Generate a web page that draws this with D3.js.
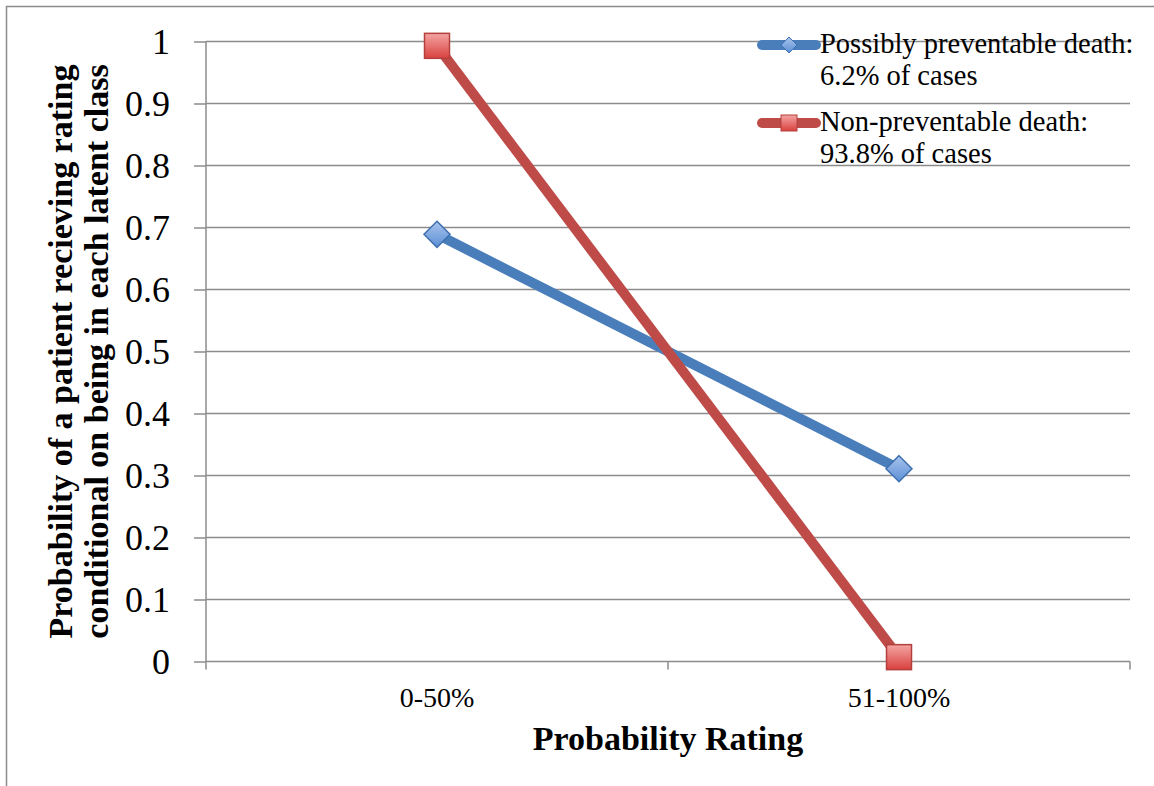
<!DOCTYPE html>
<html><head><meta charset="utf-8">
<script src="https://cdn.jsdelivr.net/npm/d3@7"></script>
<style>body{margin:0;background:#fff}svg{display:block}</style>
</head><body>
<svg id="c" width="1154" height="786"></svg>
<script>
const categories = ["0-50%", "51-100%"];
const seriesNames = ["Possibly preventable death:|6.2% of cases", "Non-preventable death:|93.8% of cases"];
const possiblyPreventable = [0.689, 0.311];
const nonPreventable = [0.993, 0.007];
const yTicks = [0, 0.1, 0.2, 0.3, 0.4, 0.5, 0.6, 0.7, 0.8, 0.9, 1];
const yTickLabels = ["0", "0.1", "0.2", "0.3", "0.4", "0.5", "0.6", "0.7", "0.8", "0.9", "1"];

(function(){
const font = "'Liberation Serif','DejaVu Serif',serif";
const svg = d3.select("#c");
const defs = svg.append("defs");
const gb = defs.append("linearGradient").attr("id","gb").attr("x1",0).attr("y1",0).attr("x2",0).attr("y2",1);
gb.append("stop").attr("offset","0").attr("stop-color","#a9c4ec");
gb.append("stop").attr("offset","1").attr("stop-color","#5b8fd6");
const gr = defs.append("linearGradient").attr("id","gr").attr("x1",0).attr("y1",0).attr("x2",0).attr("y2",1);
gr.append("stop").attr("offset","0").attr("stop-color","#f3a5a3");
gr.append("stop").attr("offset","1").attr("stop-color","#d9413e");

// outer border
svg.append("rect").attr("x",6.5).attr("y",6.5).attr("width",1160).attr("height",800)
  .attr("fill","none").attr("stroke","#8c8c8c").attr("stroke-width",1.5);

const pLeft = 206, pRight = 1130, pTop = 41.5, pBottom = 661.5;
const x = d3.scaleBand().domain(categories).range([pLeft, pRight]);
const y = d3.scaleLinear().domain([0, 1]).range([pBottom, pTop]);

// gridlines
svg.append("g").selectAll("line").data(yTicks.filter(d => d > 0)).join("line")
  .attr("x1", pLeft).attr("x2", pRight).attr("y1", d => y(d)).attr("y2", d => y(d))
  .attr("stroke", "#8c8c8c").attr("stroke-width", 1.5);

// y axis
const yAxis = d3.axisLeft(y).tickValues(yTicks).tickFormat((d,i) => yTickLabels[i]).tickSize(12).tickPadding(24);
const gy = svg.append("g").attr("transform", `translate(${pLeft},0)`).call(yAxis);
gy.select(".domain").attr("stroke","#8c8c8c").attr("stroke-width",1.5).attr("d", `M0,${pTop}V${pBottom}`);
gy.selectAll(".tick line").attr("stroke","#8c8c8c").attr("stroke-width",1.5);
gy.selectAll(".tick text").attr("font-family",font).attr("font-size",36).attr("fill","#000").attr("dy","0.33em");

// x axis
const xAxis = d3.axisBottom(x).tickSize(0).tickPadding(26);
const gx = svg.append("g").attr("transform", `translate(0,${pBottom})`).call(xAxis);
gx.select(".domain").attr("stroke","#8c8c8c").attr("stroke-width",1.5).attr("d", `M${pLeft},0H${pRight}`);
gx.selectAll(".tick text").attr("font-family",font).attr("font-size",28).attr("fill","#000");
const bounds = [pLeft, pLeft + x.step(), pRight];
svg.append("g").selectAll("line").data(bounds).join("line")
  .attr("x1", d => d).attr("x2", d => d).attr("y1", pBottom).attr("y2", pBottom + 8)
  .attr("stroke","#8c8c8c").attr("stroke-width",1.5);

// axis titles
svg.append("text").attr("x", (pLeft + pRight) / 2).attr("y", 750).attr("text-anchor","middle")
  .attr("font-family",font).attr("font-weight","bold").attr("font-size",34).text("Probability Rating");
const yt = svg.append("text").attr("transform", `translate(0,${(pTop+pBottom)/2}) rotate(-90)`)
  .attr("text-anchor","middle").attr("font-family",font).attr("font-weight","bold").attr("font-size",34);
yt.append("tspan").attr("x",0).attr("y",72).text("Probability of a patient recieving rating");
yt.append("tspan").attr("x",0).attr("y",108).text("conditional on being in each latent class");

// series
const series = [
  {values: possiblyPreventable, color: "#4a7ebb", fill: "url(#gb)", stroke: "#3f70b0", shape: "diamond"},
  {values: nonPreventable, color: "#be4b48", fill: "url(#gr)", stroke: "#b3403d", shape: "square"}
];
const cx = c => x(c) + x.bandwidth() / 2;
const line = d3.line().x((d,i) => cx(categories[i])).y(d => y(d));
function marker(g, shape, px, py, s) {
  if (shape === "diamond") {
    g.append("path").attr("d", `M${px},${py-s}L${px+s},${py}L${px},${py+s}L${px-s},${py}Z`);
  } else {
    g.append("rect").attr("x", px - s).attr("y", py - s).attr("width", 2*s).attr("height", 2*s);
  }
}
series.forEach(s => {
  svg.append("path").datum(s.values).attr("d", line).attr("fill","none")
    .attr("stroke", s.color).attr("stroke-width", 10).attr("stroke-linejoin","round");
});
series.forEach(s => {
  const g = svg.append("g").attr("fill", s.fill).attr("stroke", s.stroke).attr("stroke-width", 1.5);
  s.values.forEach((v,i) => marker(g, s.shape, cx(categories[i]), y(v), s.shape === "diamond" ? 13 : 12.5));
});

// legend
const legY = [45, 123];
series.forEach((s, k) => {
  const ly = legY[k];
  svg.append("line").attr("x1", 762).attr("x2", 816).attr("y1", ly).attr("y2", ly)
    .attr("stroke", s.color).attr("stroke-width", 10).attr("stroke-linecap","round");
  const g = svg.append("g").attr("fill", s.fill).attr("stroke", s.stroke).attr("stroke-width", 1);
  marker(g, s.shape, 789, ly, s.shape === "diamond" ? 8 : 8);
  const parts = seriesNames[k].split("|");
  const t = svg.append("text").attr("font-family",font).attr("font-size",28.5).attr("fill","#000");
  t.append("tspan").attr("x", 820).attr("y", ly + 8).text(parts[0]);
  t.append("tspan").attr("x", 820).attr("y", ly + 40).text(parts[1]);
});
})();
</script>
</body></html>
